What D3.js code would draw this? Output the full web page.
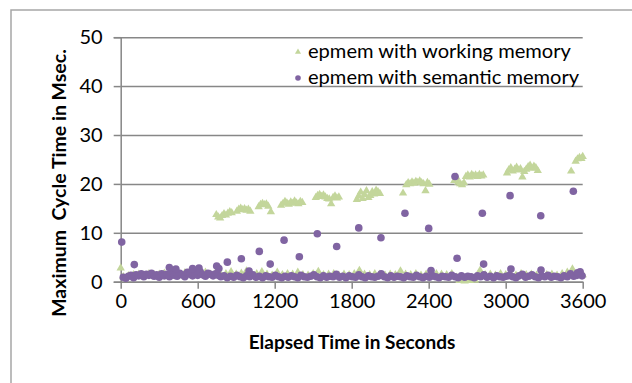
<!DOCTYPE html>
<html><head><meta charset="utf-8">
<script src="https://cdn.jsdelivr.net/npm/d3@7"></script>
<style>
html,body{margin:0;padding:0;background:#fff;}
svg{display:block;}
text{font-family:Lato,"Noto Sans",sans-serif;fill:#000;}
</style></head>
<body><svg id="c" width="632" height="383"></svg>
<script>
// ---- data ----
const seriesNames = ["epmem with working memory", "epmem with semantic memory"];
const xTicks = [0, 600, 1200, 1800, 2400, 3000, 3600];
const yTicks = [0, 10, 20, 30, 40, 50];

// epmem with working memory: low values [seconds, msec]
const wmLow = [[0,2.8],[20,1.0],[60,1.2],[100,1.4],[140,1.5],[180,1.3],[220,1.6],[260,1.4],[300,1.5],[340,1.7],[380,1.5],[420,1.6],[460,1.4],[500,1.8],[540,1.5],[580,1.7],[620,1.6],[660,1.9],[700,1.5],[740,1.8],[780,1.4],[820,1.6],[860,2.0],[900,1.5],[940,1.7],[980,2.2],[1020,1.4],[1060,1.6],[1100,2.0],[1140,1.5],[1180,1.3],[1220,1.9],[1260,1.4],[1300,1.6],[1340,1.5],[1380,1.9],[1420,1.4],[1460,1.3],[1500,1.6],[1540,2.1],[1580,1.4],[1620,1.5],[1660,1.6],[1700,1.3],[1740,1.5],[1780,1.4],[1820,1.6],[1860,2.3],[1900,1.5],[1940,1.4],[1980,1.6],[2020,1.5],[2060,1.3],[2100,1.5],[2140,1.4],[2180,2.2],[2220,1.5],[2260,1.4],[2300,1.6],[2340,1.3],[2380,1.5],[2420,1.4],[2460,1.6],[2500,1.5],[2540,1.4],[2580,1.6],[2620,0.9],[2640,0.2],[2680,0.1],[2720,0.2],[2760,0.3],[2800,2.3],[2840,1.4],[2880,1.5],[2920,1.3],[2960,1.6],[3000,1.4],[3040,1.5],[3080,1.3],[3120,1.6],[3160,1.4],[3200,1.5],[3240,1.3],[3280,1.6],[3320,1.4],[3360,1.5],[3400,1.3],[3440,1.6],[3480,1.9],[3520,2.6],[3560,1.5],[3600,1.4]];
// epmem with working memory: high clusters
const wmHigh = [[745,13.7],[760,13.2],[775,13.0],[790,13.5],[805,13.9],[820,13.6],[835,14.0],[850,14.3],[865,14.1],
[905,14.4],[920,14.8],[935,15.0],[950,14.7],[965,14.9],[980,14.6],[995,14.8],[1010,14.4],
[1075,15.3],[1090,15.8],[1105,16.0],[1120,15.7],[1135,15.9],[1150,15.4],[1170,14.3],
[1250,15.6],[1265,16.0],[1280,16.4],[1295,16.1],[1310,15.8],[1325,16.3],[1340,16.0],[1355,16.5],[1370,16.1],[1385,15.9],[1400,16.4],[1415,16.2],
[1520,17.2],[1535,17.6],[1550,17.8],[1565,17.4],[1580,17.7],[1595,17.3],[1610,17.0],[1625,16.9],[1640,15.9],[1655,17.2],[1670,17.5],[1685,17.1],[1700,17.3],
[1840,16.8],[1855,17.5],[1870,18.3],[1885,17.0],[1900,17.8],[1915,18.6],[1930,17.2],[1945,17.6],[1960,18.4],[1975,17.9],[1990,18.7],[2005,18.4],[2020,18.0],
[2200,18.1],[2225,19.8],[2240,20.2],[2255,20.0],[2270,20.4],[2285,20.1],[2300,20.5],[2315,20.3],[2330,20.6],[2345,20.2],[2360,20.0],[2375,18.6],[2390,20.3],[2405,19.9],
[2600,20.7],[2615,21.4],[2630,20.3],[2645,20.0],[2660,19.8],[2675,20.2],[2690,21.5],[2705,21.8],[2720,21.4],[2735,21.9],[2750,21.6],[2765,21.8],[2780,21.5],[2795,21.9],[2810,21.6],[2825,21.8],
[3010,22.2],[3025,22.9],[3040,23.3],[3055,22.6],[3070,23.0],[3085,23.4],[3100,22.8],[3115,23.1],[3130,21.4],[3145,22.5],[3160,23.0],[3175,23.5],[3190,23.8],[3205,23.2],[3220,23.6],[3235,23.3],[3250,22.7],
[3510,22.6],[3545,24.6],[3560,25.1],[3575,25.4],[3590,25.2],[3600,25.6]];
// epmem with semantic memory: baseline
const smBase = [[20,0.9],[40,0.7],[60,1.1],[80,1.3],[100,0.8],[120,1.4],[140,1.2],[160,1.6],[180,1.0],[200,1.5],[220,1.3],[240,1.7],[260,1.1],[280,1.4],[300,0.9],[320,1.6],[340,1.2],[360,1.5],[380,1.0],[400,1.8],[420,1.3],[440,1.1],[460,1.7],[480,1.4],[500,1.0],[520,1.9],[540,1.5],[560,1.2],[580,1.8],[600,1.3],[620,2.0],[640,1.4],[660,1.1],[680,1.7],[700,1.5],[720,1.2],[740,1.6],[760,1.3],
[780,1.0],[805,1.2],[830,0.8],[855,1.1],[880,0.9],[905,1.3],[930,1.0],[955,0.8],[980,1.2],[1005,1.0],[1030,1.4],[1055,0.9],[1080,1.1],[1105,0.8],[1130,1.2],[1155,1.0],[1180,0.9],[1205,1.3],[1230,1.0],[1255,0.8],[1280,1.1],[1305,0.9],[1330,1.2],[1355,1.0],[1380,0.8],[1405,1.3],[1430,1.0],[1455,0.9],[1480,1.1],[1505,1.4],[1530,1.0],[1555,0.8],[1580,1.2],[1605,0.9],[1630,1.1],[1655,1.0],[1680,1.5],[1705,0.9],[1730,1.1],[1755,0.8],[1780,1.2],[1805,1.0],[1830,0.9],[1855,1.4],[1880,1.0],[1905,0.8],[1930,1.2],[1955,1.0],[1980,0.9],[2005,1.1],[2030,1.6],[2055,1.0],[2080,0.8],[2105,1.2],[2130,0.9],[2155,1.1],[2180,1.0],[2205,0.8],[2230,1.2],[2255,1.0],[2280,0.9],[2305,1.3],[2330,1.0],[2355,0.8],[2380,1.1],[2405,0.9],[2430,1.2],[2455,1.0],[2480,0.8],[2505,1.1],[2530,1.0],[2555,0.9],[2580,1.3],[2605,1.0],[2630,0.8],[2655,1.2],[2680,0.9],[2705,1.1],[2730,1.0],[2755,0.8],[2780,1.2],[2805,1.0],[2830,1.4],[2855,0.9],[2880,1.1],[2905,0.8],[2930,1.2],[2955,1.0],[2980,0.9],[3005,1.1],[3030,1.3],[3055,1.0],[3080,0.8],[3105,1.2],[3130,1.5],[3155,0.9],[3180,1.1],[3205,1.4],[3230,1.0],[3255,0.8],[3280,1.2],[3305,1.0],[3330,1.3],[3355,0.9],[3380,1.1],[3405,1.0],[3430,0.8],[3455,1.2],[3480,1.0],[3505,1.6],[3530,1.1],[3555,1.3],[3580,2.0],[3595,1.2]];
// epmem with semantic memory: spikes
const smSpikes = [[8,8.1],[106,3.5],[379,2.9],[430,2.6],[560,2.7],[610,2.8],[748,3.2],[765,2.7],[831,4.0],[940,4.7],[1000,2.2],[1080,6.2],[1165,3.6],[1273,8.5],[1392,5.1],[1532,9.8],[1683,7.2],[1855,11.0],[2028,9.0],[2215,14.0],[2400,10.9],[2418,2.3],[2605,21.5],[2621,4.8],[2818,14.0],[2828,3.6],[3034,17.6],[3041,2.6],[3273,13.5],[3275,2.4],[3527,18.5],[3560,1.8]];

const wmColor = "#c3d69b", smColor = "#8064a2", gridColor = "#878787";

// ---- chart ----
const svg = d3.select("#c");
svg.append("rect").attr("x",11).attr("y",10).attr("width",700).attr("height",500)
  .attr("fill","#fff").attr("stroke","#a6a6a6").attr("stroke-width",1.5);

const x = d3.scaleLinear().domain([0,3600]).range([120.7,582.7]);
const y = d3.scaleLinear().domain([0,50]).range([281.7,37.2]);

// y axis + gridlines
const yAxis = d3.axisLeft(y).tickValues(yTicks).tickSize(7).tickPadding(11).tickFormat(d3.format("d"));
const gy = svg.append("g").attr("transform",`translate(${x(0)},0)`).call(yAxis);
gy.select(".domain").attr("stroke",gridColor).attr("stroke-width",1.5);
gy.selectAll(".tick line").attr("stroke",gridColor).attr("stroke-width",1.5);
gy.selectAll(".tick").append("line").attr("x1",0).attr("x2",x(3600)-x(0))
  .attr("stroke",gridColor).attr("stroke-width",1.5);
gy.selectAll(".tick text").attr("font-size",20).attr("font-family","Lato").attr("fill","#000");

const xAxis = d3.axisBottom(x).tickValues(xTicks).tickSize(7).tickSizeOuter(0).tickPadding(5).tickFormat(d3.format("d"));
const gx = svg.append("g").attr("transform",`translate(0,${y(0)})`).call(xAxis);
gx.select(".domain").attr("stroke",gridColor).attr("stroke-width",1.5);
gx.selectAll(".tick line").attr("stroke",gridColor).attr("stroke-width",1.5);
gx.selectAll(".tick text").attr("font-size",20).attr("font-family","Lato").attr("fill","#000");

// markers
const tri = d3.symbol().type(d3.symbolTriangle).size(30);
const wmAll = wmLow.concat(wmHigh);
svg.append("g").selectAll("path").data(wmAll).join("path")
  .attr("d",tri).attr("fill",wmColor)
  .attr("transform",d=>`translate(${x(d[0])},${y(d[1])})`);
const smAll = smBase.concat(smSpikes);
svg.append("g").selectAll("circle").data(smAll).join("circle")
  .attr("cx",d=>x(d[0])).attr("cy",d=>y(d[1])).attr("r",3.8).attr("fill",smColor);

// legend
const leg = svg.append("g");
leg.append("path").attr("d",d3.symbol().type(d3.symbolTriangle).size(16)).attr("fill",wmColor)
  .attr("transform","translate(298,52)");
leg.append("circle").attr("cx",298).attr("cy",78).attr("r",2.8).attr("fill",smColor);
leg.append("text").attr("x",308).attr("y",58).attr("font-size",20.1).text(seriesNames[0]);
leg.append("text").attr("x",308).attr("y",84).attr("font-size",20.1).text(seriesNames[1]);

// axis titles
svg.append("text").attr("x",352).attr("y",349).attr("text-anchor","middle")
  .attr("font-size",19).attr("font-weight","bold").text("Elapsed Time in Seconds");
svg.append("text").attr("transform","translate(66,183) rotate(-90)").attr("text-anchor","middle")
  .attr("font-size",19.5).attr("font-weight","bold").style("white-space","pre").text("Maximum  Cycle Time in Msec.");
</script></body></html>
